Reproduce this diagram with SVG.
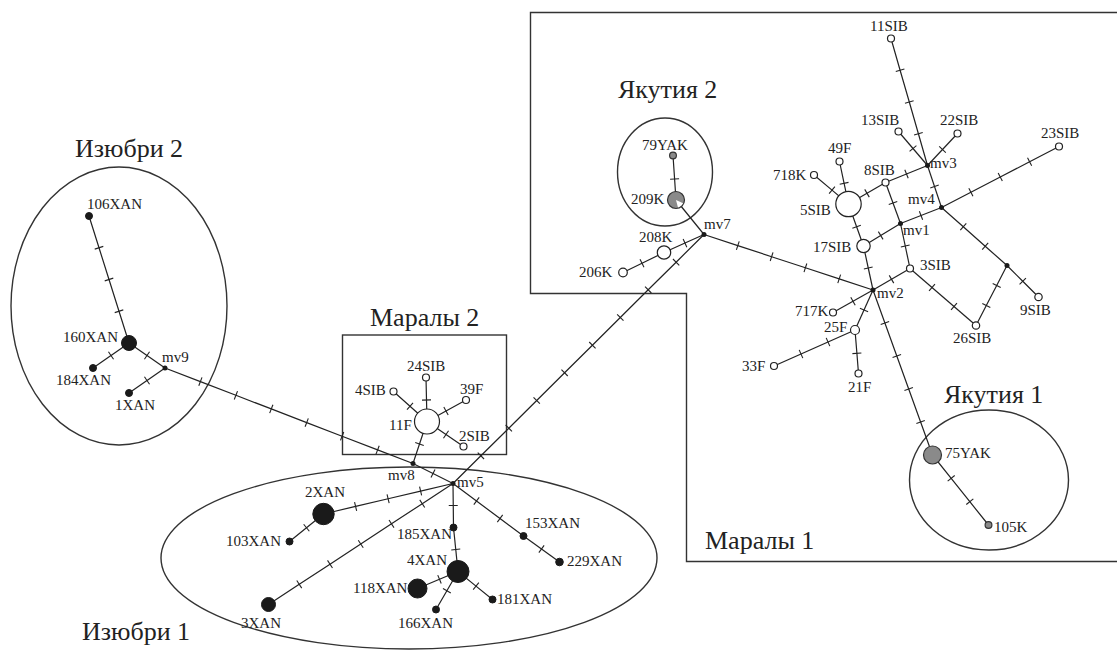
<svg xmlns="http://www.w3.org/2000/svg" width="1117" height="653" viewBox="0 0 1117 653">
<style>
.e{fill:none;stroke:#222;stroke-width:1.2;marker-mid:url(#tick)}
.n{fill:#fff;stroke:#222;stroke-width:1.2}
.b{fill:#1a1a1a;stroke:#1a1a1a;stroke-width:1}
.g{fill:#8a8a8a;stroke:#333;stroke-width:1.2}
.mv{fill:#1a1a1a}
.l{font-family:"Liberation Serif","Times New Roman",serif;font-size:15px;fill:#222}
.t{font-family:"Liberation Serif","Times New Roman",serif;font-size:26px;fill:#222}
.f{fill:none;stroke:#333;stroke-width:1.4}
</style>
<defs>
<marker id="tick" markerUnits="userSpaceOnUse" viewBox="0 0 2 10" markerWidth="2" markerHeight="10" refX="1" refY="5" orient="auto" overflow="visible">
<line x1="1" y1="0.5" x2="1" y2="9.5" stroke="#222" stroke-width="1.1"/>
</marker>
</defs>
<rect width="1117" height="653" fill="#fff"/>

<g id="groups">
<ellipse id="izubri2-area" class="f" cx="119" cy="306" rx="108" ry="139"/>
<ellipse id="izubri1-area" class="f" cx="409" cy="558" rx="248" ry="91"/>
<ellipse id="yakutia2-area" class="f" cx="665" cy="172" rx="47.5" ry="54"/>
<ellipse id="yakutia1-area" class="f" cx="989" cy="480" rx="79.5" ry="70"/>
<rect id="marals2-area" class="f" x="342.5" y="335" width="164" height="119.5"/>
<path id="marals1-area" class="f" d="M1117,12.5 H530.5 V293.5 H686.5 V561.5 H1117"/>
<text class="t" x="75" y="157">Изюбри 2</text>
<text class="t" x="82" y="640">Изюбри 1</text>
<text class="t" x="370" y="326">Маралы 2</text>
<text class="t" x="705" y="549">Маралы 1</text>
<text class="t" x="618" y="98">Якутия 2</text>
<text class="t" x="944" y="403">Якутия 1</text>
</g>

<g id="connectors">
<polyline class="e" points="89,216 99,247.75 109,279.5 119,311.25 129,343"/>
<polyline class="e" points="129,343 111,355.5 93,368"/>
<polyline class="e" points="129,343 147,355.5 165,368"/>
<polyline class="e" points="165,368 147,380.5 129,393"/>
<polyline class="e" points="165,368 200.4,381.6 235.9,395.3 271.3,408.9 306.7,422.6 342.1,436.2 377.6,449.9 413,463.5"/>
<polyline class="e" points="413,463.5 433,473.5 453,483.5"/>
<polyline class="e" points="413,463.5 419.5,444 427,421.5"/>
<polyline class="e" points="427,421.5 426.5,400 426,377.5"/>
<polyline class="e" points="427,421.5 410,406.3 393.5,391.5"/>
<polyline class="e" points="427,421.5 446,411 466,400"/>
<polyline class="e" points="427,421.5 446,434.5 463.5,446.5"/>
<polyline class="e" points="453,483.5 420.6,491.1 388.1,498.75 355.6,506.4 323.5,514"/>
<polyline class="e" points="323.5,514 306.5,527.75 289.5,541.5"/>
<polyline class="e" points="453,483.5 422.25,503.67 391.5,523.83 360.75,544 330,564.17 299.25,584.33 268.5,604.5"/>
<polyline class="e" points="453,483.5 453.25,505.5 453.5,527.5"/>
<polyline class="e" points="453.5,527.5 455.75,549.5 458,571.5"/>
<polyline class="e" points="458,571.5 439.5,579.3 417.5,588.5"/>
<polyline class="e" points="458,571.5 446.9,590.7 436,609.5"/>
<polyline class="e" points="458,571.5 476,586.1 492.5,599.5"/>
<polyline class="e" points="453,483.5 476.5,501 500,518.5 523.5,536"/>
<polyline class="e" points="523.5,536 541.5,549 559.5,562"/>
<polyline class="e" points="704,234.5 676.1,262.2 648.2,289.8 620.3,317.5 592.4,345.2 564.6,372.8 536.7,400.5 508.8,428.2 480.9,455.8 453,483.5"/>
<polyline class="e" points="673,155.5 674.6,179 676,200"/>
<polyline class="e" points="676,200 704,234.5"/>
<polyline class="e" points="704,234.5 685,243.05 664,252.5"/>
<polyline class="e" points="664,252.5 642,263.2 623,272.5"/>
<polyline class="e" points="704,234.5 737.8,245.6 771.6,256.7 805.4,267.8 839.2,278.9 873,290"/>
<polyline class="e" points="891,38.5 900.1,70.25 909.3,102 918.4,133.75 927.5,165.5"/>
<polyline class="e" points="898.5,131.5 913,148.5 927.5,165.5"/>
<polyline class="e" points="957.5,133.5 942.5,149.5 927.5,165.5"/>
<polyline class="e" points="927.5,165.5 934.5,186.5 941.5,207.5"/>
<polyline class="e" points="927.5,165.5 906.5,174 885.5,182.5"/>
<polyline class="e" points="885.5,182.5 867,193.25 848.5,204"/>
<polyline class="e" points="885.5,182.5 893,203 900.5,223.5"/>
<polyline class="e" points="900.5,223.5 921,215.5 941.5,207.5"/>
<polyline class="e" points="900.5,223.5 880.7,235.5 863.5,246"/>
<polyline class="e" points="900.5,223.5 905.25,246 910,268.5"/>
<polyline class="e" points="848.5,204 856.6,226.7 863.5,246"/>
<polyline class="e" points="863.5,246 868.25,268 873,290"/>
<polyline class="e" points="910,268.5 891.5,279.25 873,290"/>
<polyline class="e" points="873,290 853,301.25 833,312.5"/>
<polyline class="e" points="873,290 864,310 855,330"/>
<polyline class="e" points="855,330 828,342 801,354 774,366"/>
<polyline class="e" points="855,330 856.9,353.3 858.5,373.5"/>
<polyline class="e" points="839.5,161.5 844.1,183.3 848.5,204"/>
<polyline class="e" points="814,175 832,190.1 848.5,204"/>
<polyline class="e" points="941.5,207.5 970.9,192.25 1000.25,177 1029.6,161.75 1059,146.5"/>
<polyline class="e" points="941.5,207.5 963.3,226.8 985.2,246.2 1007,265.5"/>
<polyline class="e" points="1007,265.5 1022.75,281.25 1038.5,297"/>
<polyline class="e" points="1007,265.5 996.7,285.5 986.3,305.5 976,325.5"/>
<polyline class="e" points="910,268.5 932,287.5 954,306.5 976,325.5"/>
<polyline class="e" points="873,290 884.9,323 896.8,356 908.7,389 920.6,422 932.5,455"/>
<polyline class="e" points="932.5,455 951.2,478.3 969.8,501.7 988.5,525"/>
</g>

<g id="n106XAN"><circle class="b" cx="89" cy="216" r="3.5"/><text class="l" x="87" y="209">106XAN</text></g>
<g id="n160XAN"><circle class="b" cx="129" cy="343" r="7.5"/><text class="l" x="63" y="342">160XAN</text></g>
<g id="n184XAN"><circle class="b" cx="93" cy="368" r="3.5"/><text class="l" x="56" y="385">184XAN</text></g>
<g id="n1XAN"><circle class="b" cx="129" cy="393" r="3.5"/><text class="l" x="115" y="410">1XAN</text></g>
<g id="mv9"><circle class="mv" cx="165" cy="368" r="2.5"/><text class="l" x="162" y="362">mv9</text></g>
<g id="mv8"><circle class="mv" cx="413" cy="463.5" r="2.5"/><text class="l" x="388" y="480">mv8</text></g>
<g id="mv5"><circle class="mv" cx="453" cy="483.5" r="2.5"/><text class="l" x="457" y="487">mv5</text></g>

<g id="n11F"><circle class="n" cx="427" cy="421.5" r="12.5"/><text class="l" x="389" y="430">11F</text></g>
<g id="n24SIB"><circle class="n" cx="426" cy="377.5" r="3.5"/><text class="l" x="407" y="371">24SIB</text></g>
<g id="n4SIB"><circle class="n" cx="393.5" cy="391.5" r="3.5"/><text class="l" x="355" y="395">4SIB</text></g>
<g id="n39F"><circle class="n" cx="466" cy="400" r="3.5"/><text class="l" x="460" y="394">39F</text></g>
<g id="n2SIB"><circle class="n" cx="463.5" cy="446.5" r="3.5"/><text class="l" x="459" y="441">2SIB</text></g>

<g id="n2XAN"><circle class="b" cx="323.5" cy="514" r="10.7"/><text class="l" x="305" y="497">2XAN</text></g>
<g id="n103XAN"><circle class="b" cx="289.5" cy="541.5" r="3.5"/><text class="l" x="226" y="546">103XAN</text></g>
<g id="n3XAN"><circle class="b" cx="268.5" cy="604.5" r="7"/><text class="l" x="241" y="628">3XAN</text></g>
<g id="n185XAN"><circle class="b" cx="453.5" cy="527.5" r="3.5"/><text class="l" x="397" y="539">185XAN</text></g>
<g id="n4XAN"><circle class="b" cx="458" cy="571.5" r="11"/><text class="l" x="407" y="565">4XAN</text></g>
<g id="n118XAN"><circle class="b" cx="417.5" cy="588.5" r="9.5"/><text class="l" x="353" y="593">118XAN</text></g>
<g id="n166XAN"><circle class="b" cx="436" cy="609.5" r="3.5"/><text class="l" x="398" y="628">166XAN</text></g>
<g id="n181XAN"><circle class="b" cx="492.5" cy="599.5" r="3.5"/><text class="l" x="497" y="604">181XAN</text></g>
<g id="n153XAN"><circle class="b" cx="523.5" cy="536" r="3.5"/><text class="l" x="525" y="528">153XAN</text></g>
<g id="n229XAN"><circle class="b" cx="559.5" cy="562" r="3.8"/><text class="l" x="567" y="566">229XAN</text></g>

<g id="n79YAK"><circle class="g" cx="673" cy="155.5" r="3.4"/><text class="l" x="642" y="150">79YAK</text></g>
<g id="n209K"><circle cx="676" cy="200" r="8.5" fill="#8a8a8a"/><path d="M676,200 L683.7,203.6 A8.5,8.5 0 0 1 678.2,208.2 Z" fill="#fff"/><circle cx="676" cy="200" r="8.5" fill="none" stroke="#333" stroke-width="1.2"/><text class="l" x="631" y="204">209K</text></g>
<g id="mv7"><circle class="mv" cx="704" cy="234.5" r="2.5"/><text class="l" x="704" y="229">mv7</text></g>
<g id="n208K"><circle class="n" cx="664" cy="252.5" r="6.7"/><text class="l" x="639" y="242">208K</text></g>
<g id="n206K"><circle class="n" cx="623" cy="272.5" r="4.3"/><text class="l" x="579" y="277">206K</text></g>

<g id="n11SIB"><circle class="n" cx="891" cy="38.5" r="3.5"/><text class="l" x="870" y="31">11SIB</text></g>
<g id="mv3"><circle class="mv" cx="927.5" cy="165.5" r="2.5"/><text class="l" x="930" y="168">mv3</text></g>
<g id="n13SIB"><circle class="n" cx="898.5" cy="131.5" r="3.5"/><text class="l" x="861" y="125">13SIB</text></g>
<g id="n22SIB"><circle class="n" cx="957.5" cy="133.5" r="3.5"/><text class="l" x="940" y="125">22SIB</text></g>
<g id="n23SIB"><circle class="n" cx="1059" cy="146.5" r="3.5"/><text class="l" x="1041" y="138">23SIB</text></g>
<g id="n49F"><circle class="n" cx="839.5" cy="161.5" r="3.5"/><text class="l" x="828" y="153">49F</text></g>
<g id="n718K"><circle class="n" cx="814" cy="175" r="3.5"/><text class="l" x="773" y="180">718K</text></g>
<g id="n8SIB"><circle class="n" cx="885.5" cy="182.5" r="3.5"/><text class="l" x="864" y="175">8SIB</text></g>
<g id="n5SIB"><circle class="n" cx="848.5" cy="204" r="12.7"/><text class="l" x="800" y="215">5SIB</text></g>
<g id="mv4"><circle class="mv" cx="941.5" cy="207.5" r="2.5"/><text class="l" x="908" y="204">mv4</text></g>
<g id="mv1"><circle class="mv" cx="900.5" cy="223.5" r="2.5"/><text class="l" x="903" y="235">mv1</text></g>
<g id="n17SIB"><circle class="n" cx="863.5" cy="246" r="6.7"/><text class="l" x="813" y="252">17SIB</text></g>
<g id="n3SIB"><circle class="n" cx="910" cy="268.5" r="3.5"/><text class="l" x="920" y="270">3SIB</text></g>
<g id="mv2"><circle class="mv" cx="873" cy="290" r="2.5"/><text class="l" x="877" y="298">mv2</text></g>
<g id="n717K"><circle class="n" cx="833" cy="312.5" r="3.5"/><text class="l" x="795" y="316">717K</text></g>
<g id="n9SIB"><circle class="n" cx="1038.5" cy="297" r="3.7"/><text class="l" x="1020" y="315">9SIB</text></g>
<g id="mvX"><circle class="mv" cx="1007" cy="265.5" r="2.5"/></g>
<g id="n26SIB"><circle class="n" cx="976" cy="325.5" r="3.7"/><text class="l" x="953" y="343">26SIB</text></g>
<g id="n25F"><circle class="n" cx="855" cy="330" r="4.5"/><text class="l" x="824" y="332">25F</text></g>
<g id="n33F"><circle class="n" cx="774" cy="366" r="3.5"/><text class="l" x="742" y="371">33F</text></g>
<g id="n21F"><circle class="n" cx="858.5" cy="373.5" r="3.5"/><text class="l" x="848" y="392">21F</text></g>
<g id="n75YAK"><circle class="g" cx="932.5" cy="455" r="9"/><text class="l" x="945" y="458">75YAK</text></g>
<g id="n105K"><circle class="g" cx="988.5" cy="525" r="3.4"/><text class="l" x="994" y="532">105K</text></g>
</svg>
